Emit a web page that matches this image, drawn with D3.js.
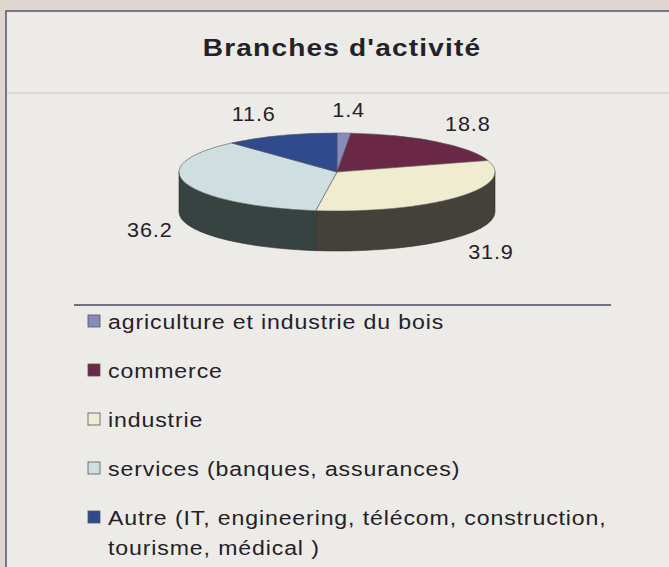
<!DOCTYPE html>
<html>
<head>
<meta charset="utf-8">
<script src="https://cdn.jsdelivr.net/npm/d3@7"></script>
<style>
  html, body { margin: 0; padding: 0; background: #ddd7d0; }
  #chart { width: 669px; height: 567px; }
  text { font-family: "Liberation Sans", Arial, sans-serif; fill: #242129; }
</style>
</head>
<body>
<div id="chart"></div>
<script>
// data
const categories = ["agriculture et industrie du bois", "commerce", "industrie",
  "services (banques, assurances)", "Autre (IT, engineering, télécom, construction, tourisme, médical )"];
const legendLines = [
  ["agriculture et industrie du bois"],
  ["commerce"],
  ["industrie"],
  ["services (banques, assurances)"],
  ["Autre (IT, engineering, télécom, construction,", "tourisme, médical )"]
];
const values = [1.4, 18.8, 31.9, 36.2, 11.6];
const topColors = ["#868cbc", "#6a2846", "#efecd0", "#cfdfe1", "#2f4b8d"];
const sideColors = ["#4b4f6a", "#3b1a2a", "#43413a", "#374340", "#1d2c50"];

const width = 669, height = 567;
const cx = 337, cy = 172, rx = 158, ry = 39, depth = 40;

const svg = d3.select("#chart").append("svg")
  .attr("width", width).attr("height", height);

// frame
svg.append("rect").attr("x", 6).attr("y", 11).attr("width", width).attr("height", height)
  .attr("fill", "#ecebe7").attr("stroke", "#57526c").attr("stroke-width", 1.5);
svg.append("line").attr("x1", 7).attr("x2", width).attr("y1", 93).attr("y2", 93)
  .attr("stroke", "#cac8c4").attr("stroke-width", 1);

// scanned type is wider than the installed fonts, so stretch it a bit
svg.append("g")
  .attr("transform", "translate(342,56) scale(1.17,1)")
  .append("text")
  .attr("text-anchor", "middle")
  .style("font-size", "24px").style("font-weight", "bold").style("letter-spacing", "1px")
  .text("Branches d'activité");

const pie = d3.pie().sort(null).value(d => d);
const arcs = pie(values);

const pt = (a, dy) => [cx + rx * Math.sin(a), cy - ry * Math.cos(a) + (dy || 0)];

function topPath(d) {
  const p0 = pt(d.startAngle), p1 = pt(d.endAngle);
  const large = d.endAngle - d.startAngle > Math.PI ? 1 : 0;
  return `M${cx},${cy}L${p0}A${rx},${ry} 0 ${large} 1 ${p1}Z`;
}

function sidePath(d) {
  const a0 = Math.max(d.startAngle, Math.PI / 2);
  const a1 = Math.min(d.endAngle, Math.PI * 1.5);
  if (a1 <= a0) return null;
  const t0 = pt(a0), t1 = pt(a1), b0 = pt(a0, depth), b1 = pt(a1, depth);
  return `M${t0}A${rx},${ry} 0 0 1 ${t1}L${b1}A${rx},${ry} 0 0 0 ${b0}Z`;
}

const g = svg.append("g");
g.selectAll(".side")
  .data(arcs.filter(d => sidePath(d)))
  .enter().append("path")
  .attr("class", "side")
  .attr("d", sidePath)
  .attr("fill", d => sideColors[d.index])
  .attr("stroke", "#333").attr("stroke-width", 0.6);

g.selectAll(".top")
  .data(arcs)
  .enter().append("path")
  .attr("class", "top")
  .attr("d", topPath)
  .attr("fill", d => topColors[d.index])
  .attr("stroke", "#555").attr("stroke-width", 0.6);

// value labels
const labR = rx + 14, labRy = 62;
svg.selectAll(".val")
  .data(arcs)
  .enter().append("g")
  .attr("class", "val")
  .attr("transform", d => {
    const a = (d.startAngle + d.endAngle) / 2;
    const s = Math.sin(a), c = Math.cos(a);
    const x = cx + labR * s + (Math.abs(s) < 0.2 ? 4 : 0);
    const y = cy - labRy * c + (c < 0 ? depth : 0);
    return `translate(${x},${y}) scale(1.08,1)`;
  })
  .append("text")
  .attr("dy", "0.36em")
  .attr("text-anchor", d => {
    const s = Math.sin((d.startAngle + d.endAngle) / 2);
    return Math.abs(s) < 0.2 ? "middle" : (s > 0 ? "start" : "end");
  })
  .style("font-size", "20px").style("letter-spacing", "0.8px")
  .text(d => d.value.toFixed(1));

// legend
svg.append("line").attr("x1", 74).attr("x2", 611).attr("y1", 305).attr("y2", 305)
  .attr("stroke", "#4d4a60").attr("stroke-width", 1.3);

const legend = svg.selectAll(".leg")
  .data(categories)
  .enter().append("g")
  .attr("class", "leg")
  .attr("transform", (d, i) => `translate(0,${321 + i * 49})`);

legend.append("rect")
  .attr("x", 88).attr("y", -6).attr("width", 12).attr("height", 12)
  .attr("fill", (d, i) => topColors[i])
  .attr("stroke", "#555").attr("stroke-width", 0.8);

legend.append("g")
  .attr("transform", "translate(108,0) scale(1.1,1)")
  .append("text")
  .style("font-size", "21px").style("letter-spacing", "0.8px")
  .selectAll("tspan")
  .data((d, i) => legendLines[i])
  .enter().append("tspan")
  .attr("x", 0)
  .attr("y", (d, j) => j * 30)
  .attr("dy", "0.36em")
  .text(d => d);
</script>
</body>
</html>
